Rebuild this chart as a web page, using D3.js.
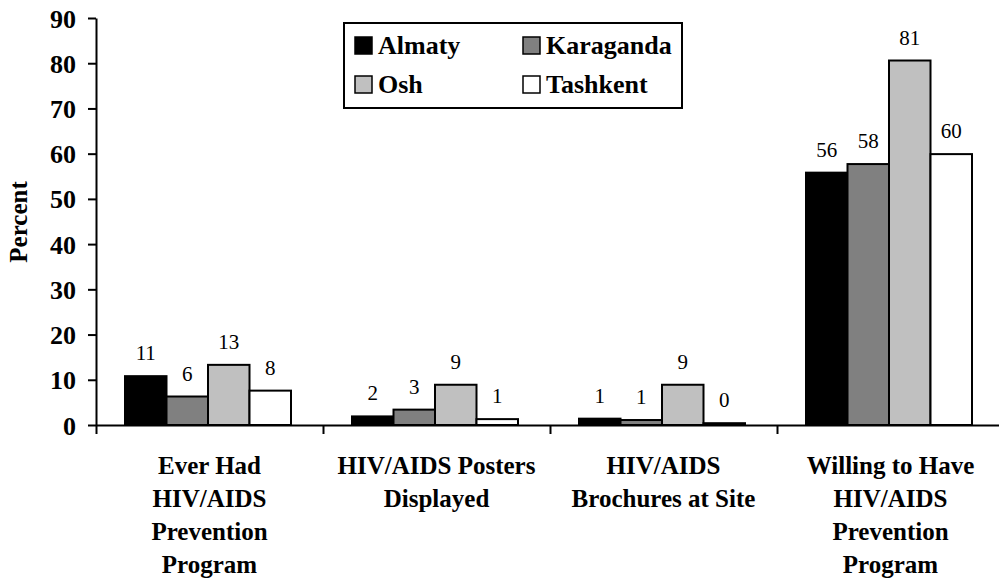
<!DOCTYPE html>
<html>
<head>
<meta charset="utf-8">
<script src="https://cdn.jsdelivr.net/npm/d3@7"></script>
<style>
  body { margin: 0; background: #fff; }
  svg text { font-family: "Liberation Serif", "Times New Roman", serif; }
</style>
</head>
<body>
<svg id="chart" width="999" height="580"></svg>
<script>
// data
const categories = [
  ["Ever Had", "HIV/AIDS", "Prevention", "Program"],
  ["HIV/AIDS Posters", "Displayed"],
  ["HIV/AIDS", "Brochures at Site"],
  ["Willing to Have", "HIV/AIDS", "Prevention", "Program"]
];
const cities = ["Almaty", "Karaganda", "Osh", "Tashkent"];
const almaty = [10.8, 1.9, 1.4, 55.8];
const karaganda = [6.3, 3.4, 1.1, 57.7];
const osh = [13.3, 8.9, 8.9, 80.6];
const tashkent = [7.6, 1.3, 0.4, 59.9];
const yTicks = [0, 10, 20, 30, 40, 50, 60, 70, 80, 90];
const fills = ["#000000", "#808080", "#c0c0c0", "#ffffff"];

const series = [almaty, karaganda, osh, tashkent];

const svg = d3.select("#chart");
const plotLeft = 96, plotRight = 1004, plotTop = 18, plotBottom = 425;

const y = d3.scaleLinear().domain([0, 90]).range([plotBottom, plotTop]);
const x = d3.scaleBand().domain(d3.range(categories.length)).range([plotLeft, plotRight]).padding(0);
// bars sit in the middle of each category
const inner = d3.scaleBand().domain(d3.range(cities.length)).range([29, 195]).padding(0);
// category boundaries for the tick marks
const xb = d3.scaleLinear().domain([0, categories.length]).range([plotLeft, plotRight]);

// bars
const groups = svg.append("g").selectAll("g")
  .data(categories.map((c, i) => i))
  .join("g")
  .attr("transform", i => `translate(${x(i)},0)`);

groups.selectAll("rect")
  .data(i => series.map((s, k) => ({k: k, v: s[i]})))
  .join("rect")
  .attr("x", d => inner(d.k))
  .attr("y", d => y(d.v))
  .attr("width", inner.bandwidth())
  .attr("height", d => y(0) - y(d.v))
  .attr("fill", d => fills[d.k])
  .attr("stroke", "#000")
  .attr("stroke-width", 2);

// value labels
groups.selectAll("text.val")
  .data(i => series.map((s, k) => ({k: k, v: s[i]})))
  .join("text")
  .attr("class", "val")
  .attr("x", d => inner(d.k) + inner.bandwidth() / 2)
  .attr("y", d => y(d.v) - 16)
  .attr("text-anchor", "middle")
  .attr("font-size", 21)
  .text(d => Math.round(d.v));

// y axis
const yAxis = svg.append("g")
  .attr("transform", `translate(${plotLeft},0)`)
  .call(d3.axisLeft(y).tickValues(yTicks).tickSize(8).tickSizeOuter(0).tickPadding(12));
yAxis.selectAll("text").attr("font-size", 26).attr("font-weight", "bold").attr("dy", "0.35em")
  .style("font-family", '"Liberation Serif", "Times New Roman", serif');
yAxis.selectAll("line, path").attr("stroke", "#000").attr("stroke-width", 2);

// x axis with ticks between categories
const xAxis = svg.append("g")
  .attr("transform", `translate(0,${plotBottom})`)
  .call(d3.axisBottom(xb).tickValues(d3.range(categories.length + 1)).tickSize(9).tickSizeOuter(0).tickFormat(""));
xAxis.selectAll("line, path").attr("stroke", "#000").attr("stroke-width", 2);

// category labels
svg.append("g").selectAll("text")
  .data(categories)
  .join("text")
  .attr("text-anchor", "middle")
  .attr("font-size", 25)
  .attr("font-weight", "bold")
  .each(function(lines, i) {
    d3.select(this).selectAll("tspan")
      .data(lines)
      .join("tspan")
      .attr("x", x(i) + x.bandwidth() / 2)
      .attr("y", (d, j) => 474 + j * 33)
      .text(d => d);
  });

// y title
svg.append("text")
  .attr("transform", "translate(27,222) rotate(-90)")
  .attr("text-anchor", "middle")
  .attr("font-size", 25)
  .attr("font-weight", "bold")
  .text("Percent");

// legend
const legend = svg.append("g");
legend.append("rect")
  .attr("x", 344).attr("y", 23).attr("width", 338).attr("height", 85)
  .attr("fill", "#fff").attr("stroke", "#000").attr("stroke-width", 2);

const items = legend.selectAll("g.item")
  .data(cities)
  .join("g")
  .attr("class", "item")
  .attr("transform", (d, i) => `translate(${i % 2 ? 523 : 355},${i < 2 ? 37 : 76})`);

items.append("rect")
  .attr("width", 17).attr("height", 17)
  .attr("fill", (d, i) => fills[i])
  .attr("stroke", "#000").attr("stroke-width", 1.5);

items.append("text")
  .attr("x", 23).attr("y", 17)
  .attr("font-size", 26)
  .attr("font-weight", "bold")
  .text(d => d);
</script>
</body>
</html>
